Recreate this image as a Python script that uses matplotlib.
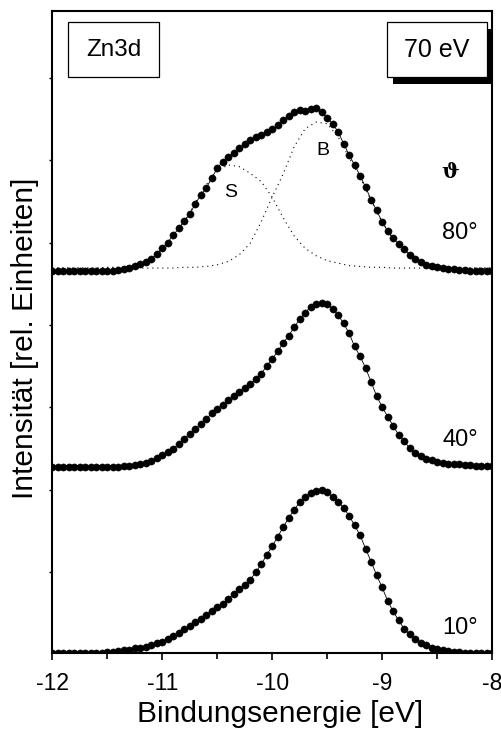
import matplotlib
matplotlib.use("Agg")
import matplotlib.pyplot as plt
from matplotlib.patches import Rectangle
import numpy as np

plt.rcParams['font.family'] = ['Liberation Sans', 'DejaVu Sans']

# ---------------- data ----------------
energy = [-12.00, -11.95, -11.90, -11.85, -11.80, -11.75, -11.70, -11.65, -11.60, -11.55,
          -11.50, -11.45, -11.40, -11.35, -11.30, -11.25, -11.20, -11.15, -11.10, -11.05,
          -11.00, -10.95, -10.90, -10.85, -10.80, -10.75, -10.70, -10.65, -10.60, -10.55,
          -10.50, -10.45, -10.40, -10.35, -10.30, -10.25, -10.20, -10.15, -10.10, -10.05,
          -10.00, -9.95, -9.90, -9.85, -9.80, -9.75, -9.70, -9.65, -9.60, -9.55,
          -9.50, -9.45, -9.40, -9.35, -9.30, -9.25, -9.20, -9.15, -9.10, -9.05,
          -9.00, -8.95, -8.90, -8.85, -8.80, -8.75, -8.70, -8.65, -8.60, -8.55,
          -8.50, -8.45, -8.40, -8.35, -8.30, -8.25, -8.20, -8.15, -8.10, -8.05, -8.00]

spec_10 = [0.03, 0.03, 0.03, 0.03, 0.03, 0.03, 0.03, 0.03, 0.03, 0.03,
           0.035, 0.04, 0.05, 0.055, 0.065, 0.08, 0.09, 0.10, 0.12, 0.14,
           0.16, 0.19, 0.23, 0.27, 0.31, 0.35, 0.40, 0.44, 0.49, 0.53,
           0.58, 0.62, 0.68, 0.74, 0.80, 0.85, 0.91, 1.00, 1.10, 1.21,
           1.32, 1.43, 1.55, 1.66, 1.76, 1.85, 1.92, 1.96, 1.99, 2.00,
           1.97, 1.92, 1.86, 1.78, 1.69, 1.57, 1.45, 1.29, 1.13, 0.97,
           0.82, 0.66, 0.53, 0.42, 0.32, 0.25, 0.19, 0.15, 0.12, 0.09,
           0.07, 0.055, 0.045, 0.04, 0.035, 0.03, 0.03, 0.03, 0.03, 0.03, 0.03]

spec_40 = [2.28, 2.28, 2.28, 2.28, 2.28, 2.28, 2.28, 2.28, 2.28, 2.28,
           2.28, 2.28, 2.28, 2.285, 2.29, 2.30, 2.31, 2.33, 2.355, 2.385,
           2.42, 2.46, 2.50, 2.56, 2.62, 2.68, 2.74, 2.80, 2.86, 2.93,
           2.98, 3.03, 3.09, 3.14, 3.19, 3.24, 3.29, 3.34, 3.41, 3.50,
           3.59, 3.68, 3.78, 3.87, 3.97, 4.07, 4.15, 4.22, 4.26, 4.27,
           4.25, 4.20, 4.12, 4.02, 3.90, 3.74, 3.62, 3.48, 3.31, 3.14,
           3.01, 2.89, 2.78, 2.67, 2.59, 2.51, 2.45, 2.41, 2.38, 2.36,
           2.34, 2.33, 2.32, 2.315, 2.31, 2.30, 2.30, 2.295, 2.29, 2.29, 2.29]

spec_80 = [4.65, 4.65, 4.65, 4.65, 4.65, 4.65, 4.65, 4.65, 4.65, 4.65,
           4.655, 4.66, 4.665, 4.675, 4.69, 4.715, 4.74, 4.765, 4.80, 4.86,
           4.93, 5.00, 5.09, 5.17, 5.26, 5.34, 5.47, 5.57, 5.66, 5.78,
           5.90, 5.98, 6.04, 6.08, 6.14, 6.19, 6.24, 6.28, 6.30, 6.34,
           6.37, 6.42, 6.48, 6.53, 6.58, 6.61, 6.60, 6.62, 6.63, 6.58,
           6.51, 6.44, 6.34, 6.20, 6.06, 5.94, 5.81, 5.67, 5.52, 5.39,
           5.25, 5.14, 5.05, 4.98, 4.92, 4.85, 4.80, 4.76, 4.73, 4.71,
           4.70, 4.69, 4.68, 4.675, 4.67, 4.665, 4.66, 4.66, 4.66, 4.66, 4.66]

fit_energy = [-12.0, -11.9, -11.8, -11.7, -11.6, -11.5, -11.4, -11.3, -11.2, -11.1,
              -11.0, -10.9, -10.8, -10.7, -10.6, -10.5, -10.4, -10.3, -10.2, -10.1,
              -10.0, -9.9, -9.8, -9.7, -9.6, -9.5, -9.4, -9.3, -9.2, -9.1,
              -9.0, -8.9, -8.8, -8.7, -8.6, -8.5, -8.4, -8.3, -8.2, -8.1, -8.0]

fit_S = [4.69, 4.69, 4.69, 4.69, 4.69, 4.70, 4.70, 4.72, 4.74, 4.79,
         4.88, 5.05, 5.25, 5.48, 5.70, 5.87, 5.94, 5.92, 5.84, 5.74,
         5.55, 5.30, 5.08, 4.93, 4.84, 4.78, 4.75, 4.72, 4.71, 4.70,
         4.70, 4.69, 4.69, 4.69, 4.69, 4.69, 4.69, 4.69, 4.69, 4.69, 4.69]

fit_B = [4.69, 4.69, 4.69, 4.69, 4.69, 4.69, 4.69, 4.69, 4.69, 4.69,
         4.69, 4.69, 4.70, 4.70, 4.71, 4.73, 4.77, 4.85, 4.99, 5.25,
         5.55, 5.83, 6.16, 6.38, 6.46, 6.44, 6.28, 6.03, 5.79, 5.51,
         5.25, 5.05, 4.91, 4.81, 4.75, 4.72, 4.70, 4.69, 4.69, 4.69, 4.69]

angle_labels = ["80°", "40°", "10°"]
x_ticks = [-12, -11, -10, -9, -8]
x_ticklabels = ["-12", "-11", "-10", "-9", "-8"]

# ---------------- figure ----------------
W, H = 502, 734
fig = plt.figure(figsize=(W / 100, H / 100), dpi=100)
ax = fig.add_axes([52.3 / W, 1 - 653 / H, (492 - 52.3) / W, (653 - 10.7) / H])

for s in (spec_10, spec_40, spec_80):
    ax.plot(energy, s, color='black', lw=0.6, marker='o', markersize=5.2,
            markerfacecolor='black', markeredgecolor='black', markeredgewidth=0.3,
            zorder=3)

for f in (fit_S, fit_B):
    ax.plot(fit_energy, f, color='black', lw=0.8, linestyle=(0, (1.0, 3.5)), zorder=2)

ax.set_xlim(-12, -8)
ax.set_ylim(0.024, 7.81)

ax.set_xticks(x_ticks)
ax.set_xticklabels(x_ticklabels)
ax.set_xticks([-11.5, -10.5, -9.5, -8.5], minor=True)
ax.set_yticks([1, 2, 3, 4, 5, 6, 7])
ax.set_yticklabels([])
ax.tick_params(axis='x', which='major', direction='out', length=5, width=1.2,
               labelsize=16.5, pad=9)
ax.tick_params(axis='x', which='minor', direction='out', length=4.5, width=1.2)
ax.tick_params(axis='y', which='major', direction='out', length=2.5, width=1.0)
for sp in ax.spines.values():
    sp.set_linewidth(1.5)

ax.set_xlabel("Bindungsenergie [eV]", fontsize=21.5)
ax.xaxis.set_label_coords(0.518, -0.073)
ax.set_ylabel("Intensität [rel. Einheiten]", fontsize=21.5)
ax.yaxis.set_label_coords(-0.03, 0.49)

# labels
ax.text(-10.38, 5.61, "S", fontsize=14, ha='center', va='center', zorder=4)
ax.text(-9.54, 6.12, "B", fontsize=14, ha='center', va='center', zorder=4)
ax.text(-8.38, 5.85, "ϑ", fontsize=15, ha='center', va='center', zorder=4,
        fontweight='bold', family=['DejaVu Serif', 'DejaVu Sans'])
label_y = [5.12, 2.61, 0.33]
for lab, yy in zip(angle_labels, label_y):
    ax.text(-8.29, yy, lab, fontsize=17, ha='center', va='center', zorder=4)

# boxes (axes fraction)
def fx(px):
    return (px - 52.3) / (492 - 52.3)

def fy(py):
    return (653 - py) / (653 - 10.7)

zn = Rectangle((fx(68.3), fy(77.3)), fx(159) - fx(68.3), fy(22.3) - fy(77.3),
               transform=ax.transAxes, facecolor='white', edgecolor='black',
               lw=0.9, zorder=5)
ax.add_patch(zn)
ax.text((fx(68.3) + fx(159)) / 2, (fy(22.3) + fy(77.3)) / 2, "Zn3d", fontsize=17.5,
        ha='center', va='center', transform=ax.transAxes, zorder=6)

shadow = Rectangle((fx(393.2), fy(84.3)), fx(493.5) - fx(393.2), fy(29.3) - fy(84.3),
                   transform=ax.transAxes, facecolor='black', edgecolor='black',
                   lw=0, zorder=5, clip_on=False)
ax.add_patch(shadow)
ev = Rectangle((fx(386.7), fy(77.3)), fx(487.3) - fx(386.7), fy(22.3) - fy(77.3),
               transform=ax.transAxes, facecolor='white', edgecolor='black',
               lw=0.9, zorder=6)
ax.add_patch(ev)
ax.text((fx(386.7) + fx(487.3)) / 2, (fy(22.3) + fy(77.3)) / 2, "70 eV", fontsize=18,
        ha='center', va='center', transform=ax.transAxes, zorder=7)

fig.savefig("out.png", dpi=100)
